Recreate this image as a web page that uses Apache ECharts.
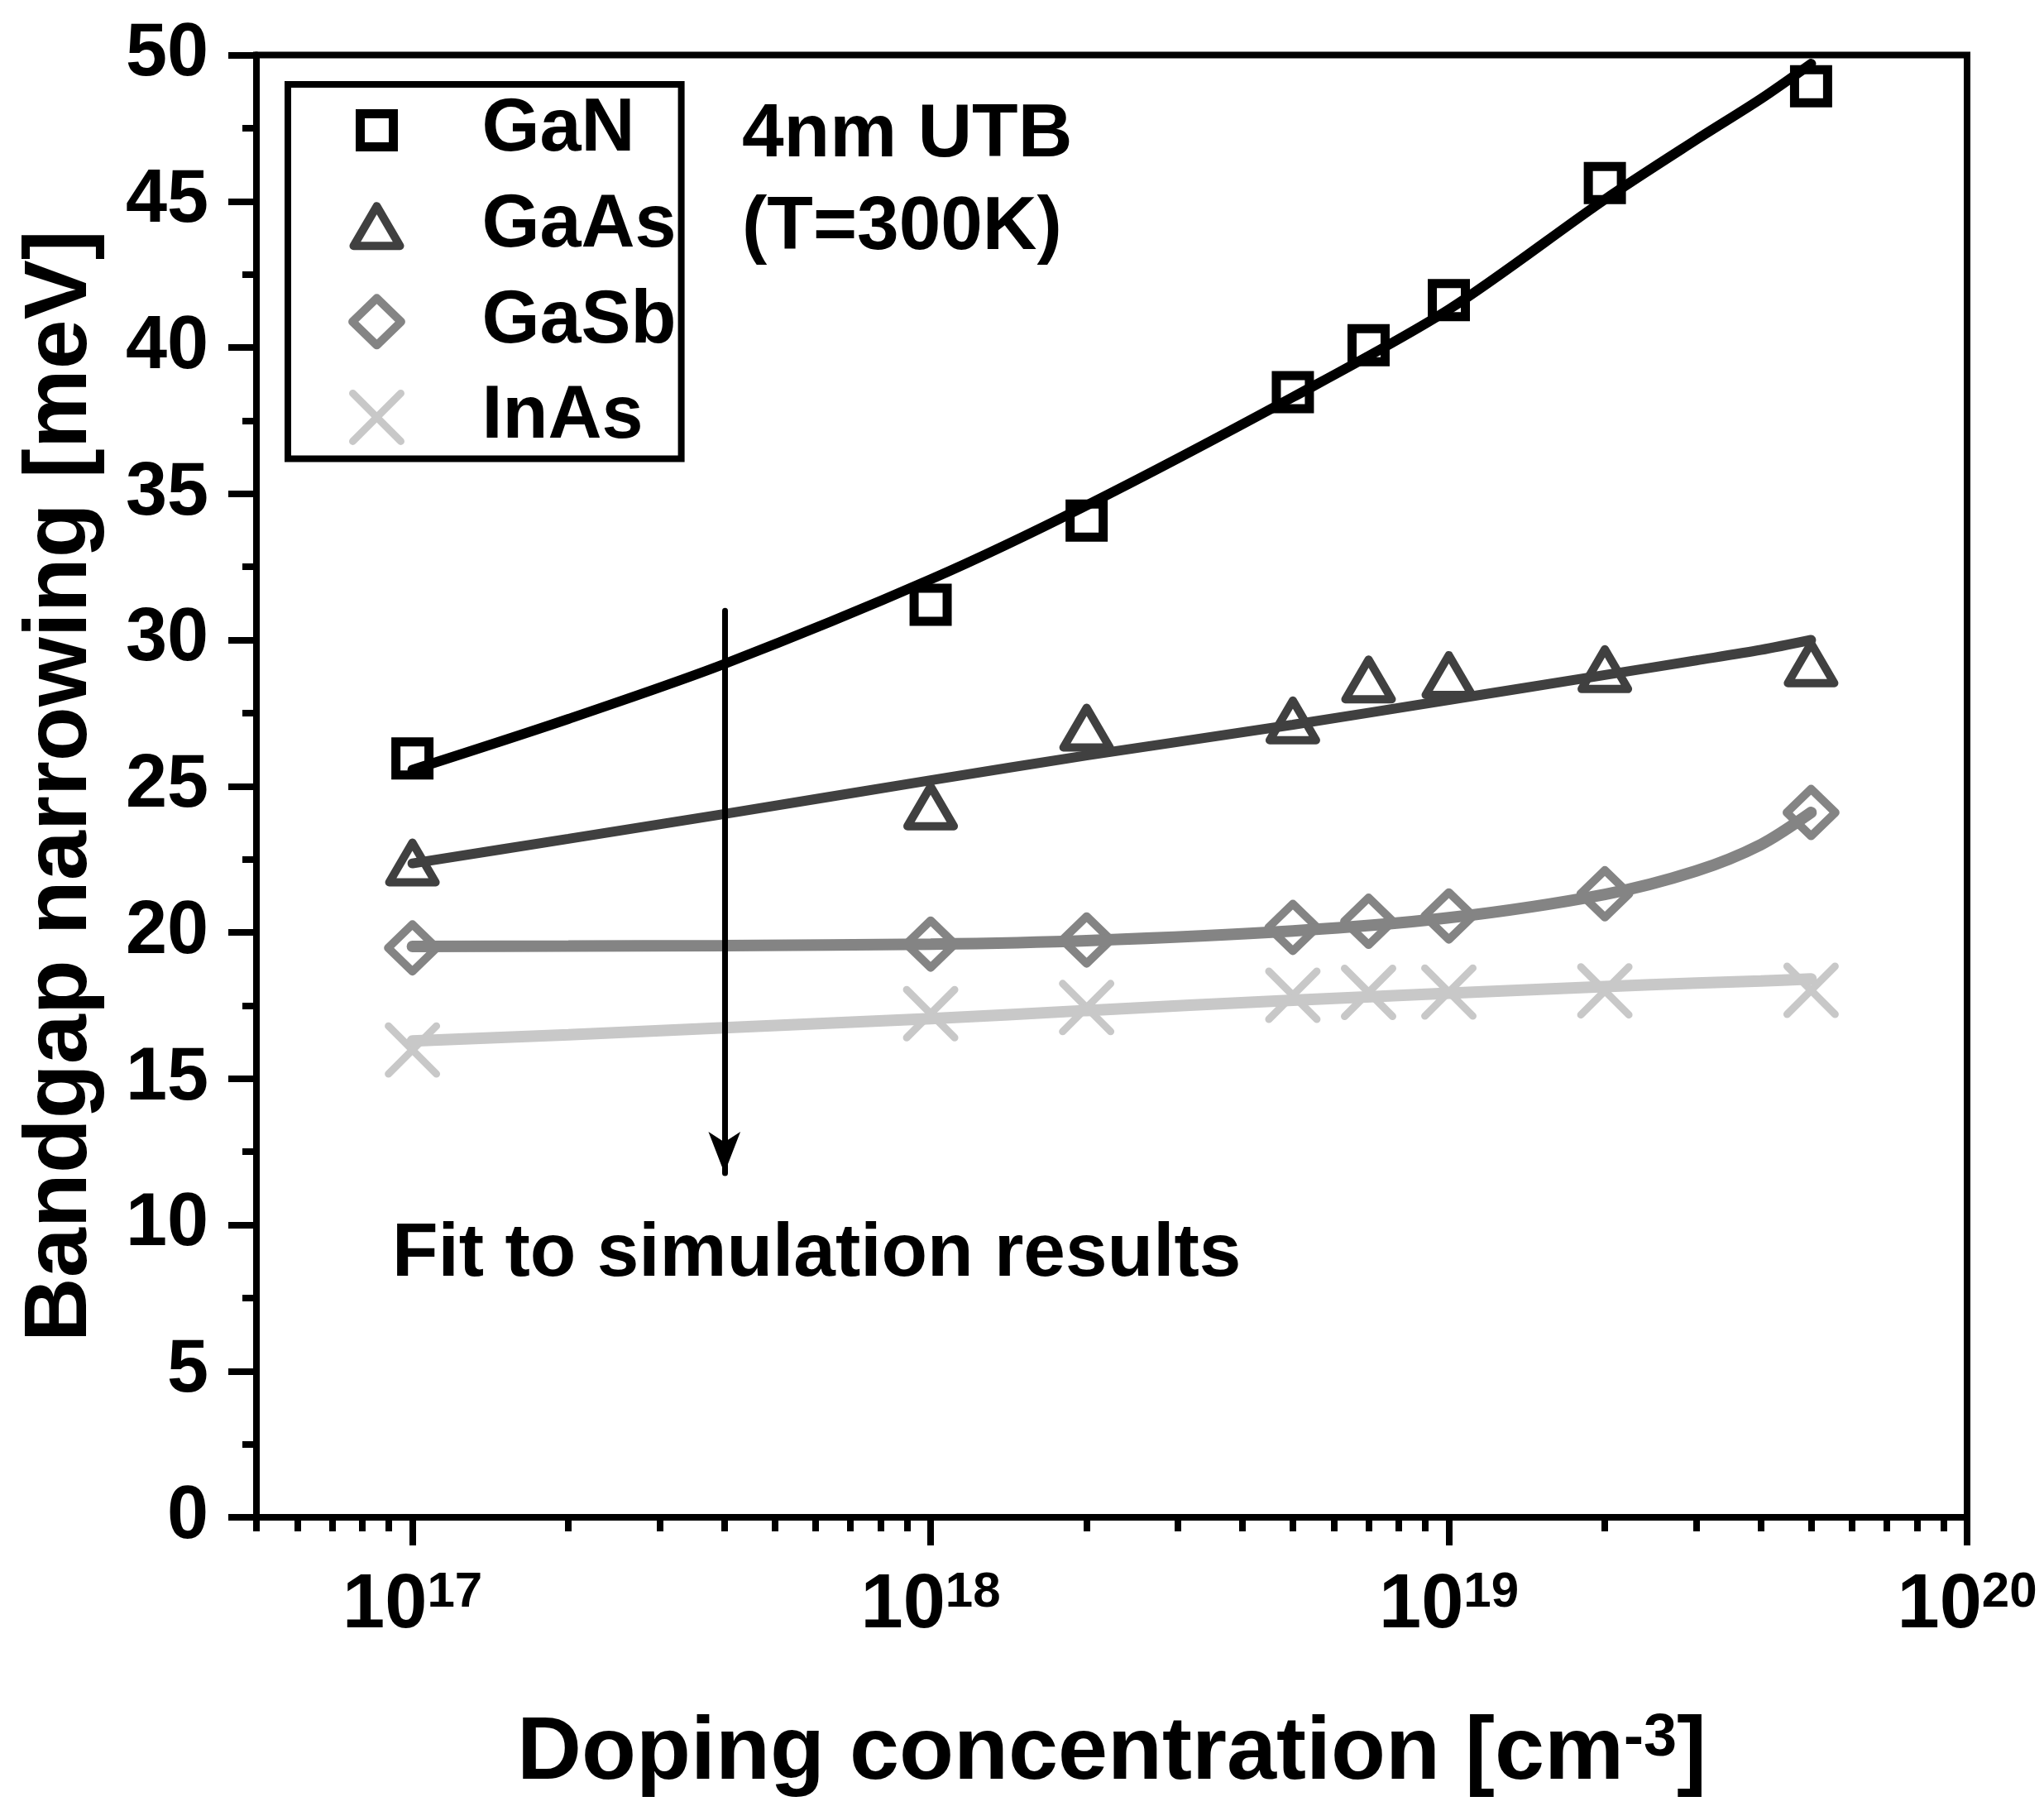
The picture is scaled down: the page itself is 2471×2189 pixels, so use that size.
<!DOCTYPE html>
<html>
<head>
<meta charset="utf-8">
<title>Bandgap narrowing</title>
<script src="https://cdn.jsdelivr.net/npm/echarts@6/dist/echarts.min.js"></script>
<style>
html, body { margin: 0; padding: 0; background: #fff; }
#main { width: 2471px; height: 2189px; }
</style>
</head>
<body>
<div id="main"></div>
<script>
// 数据：掺杂浓度 (cm^-3) 与禁带变窄量 (meV)
var dopingConc = [1e17, 1e18, 2e18, 5e18, 7e18, 1e19, 2e19, 5e19];
var ganBGN  = [25.95, 31.2, 34.08, 38.47, 40.08, 41.62, 45.62, 48.93];
var gaasBGN = [22.39, 24.31, 27.0, 27.25, 28.65, 28.8, 29.0, 29.2];
var gasbBGN = [19.47, 19.6, 19.74, 20.17, 20.38, 20.56, 21.32, 24.1];
var inasBGN = [15.98, 17.22, 17.43, 17.85, 17.95, 17.96, 18.0, 18.02];

// 拟合曲线 (Fit to simulation results)
var fitConc = [1e17, 2e17, 4e17, 1e18, 2e18, 5e18, 1e19, 2e19, 3e19, 4e19, 5e19];
var ganFit  = [25.56, 27.3, 29.18, 32.07, 34.6, 38.3, 41.3, 45.06, 47.1, 48.5, 49.7];
var gaasFit = [22.36, 23.2, 24.05, 25.2, 26.05, 27.1, 27.95, 28.8, 29.3, 29.66, 30.0];
var gasbFit = [19.52, 19.53, 19.55, 19.6, 19.72, 20.05, 20.5, 21.3, 22.1, 23.0, 24.1];
var inasFit = [16.29, 16.5, 16.74, 17.05, 17.33, 17.68, 17.92, 18.15, 18.27, 18.34, 18.41];

// 坐标轴
var xMin = 5e16, xMax = 1e20;
var xMajorTicks = [1e17, 1e18, 1e19, 1e20];
var yMin = 0, yMax = 50, yStep = 5;

// 箭头
var arrowConc = 4e17;
var arrowBGN = [31.0, 11.77];

var names = ['GaN', 'GaAs', 'GaSb', 'InAs'];
var colors = ['#000000', '#404040', '#848484', '#c8c8c8'];

var FONT = "'Liberation Sans', Arial, sans-serif";

// 空心符号 (100x100 框)
var SYM = {
    square:   'path://M0,0M100,100M16.7,16.7L83.3,16.7L83.3,83.3L16.7,83.3Z',
    triangle: 'path://M0,0M100,100M50,10L96.7,90L3.3,90Z',
    diamond:  'path://M0,0M100,100M50,2.5L99,50L50,97.5L1,50Z',
    cross:    'path://M0,0M100,100M1.7,1.7L98.3,98.3M98.3,1.7L1.7,98.3'
};
var symbols = [SYM.square, SYM.triangle, SYM.diamond, SYM.cross];
var borderW = [11, 10, 10, 9];
var joins = ['miter', 'round', 'round', 'round'];

function lg(v) { return Math.log10(v); }
function pairs(xs, ys) {
    var out = [];
    for (var i = 0; i < xs.length; i++) out.push([lg(xs[i]), ys[i]]);
    return out;
}

// 次刻度
var minorTicks = [];
for (var d = 16; d < 20; d++) {
    for (var k = 2; k <= 9; k++) {
        var v = lg(k * Math.pow(10, d));
        if (v >= lg(xMin) - 1e-9) minorTicks.push(v);
    }
}

var myChart = echarts.init(document.getElementById('main'));

var series = [];
var measured = [ganBGN, gaasBGN, gasbBGN, inasBGN];
var fits = [ganFit, gaasFit, gasbFit, inasFit];
var fitWidth = [12, 12, 14, 14];

for (var i = 0; i < 4; i++) {
    series.push({
        name: names[i],
        type: 'scatter',
        data: pairs(dopingConc, measured[i]),
        symbol: symbols[i],
        symbolSize: 60,
        z: 3,
        itemStyle: {
            color: 'transparent',
            borderColor: colors[i],
            borderWidth: borderW[i],
            borderJoin: joins[i],
            borderCap: 'round',
            opacity: 1
        }
    });
}
for (var j = 0; j < 4; j++) {
    var s = {
        name: names[j] + ' fit',
        type: 'line',
        data: pairs(fitConc, fits[j]),
        smooth: 0.3,
        showSymbol: false,
        symbol: 'none',
        z: 4,
        lineStyle: { color: colors[j], width: fitWidth[j], cap: 'round' }
    };
    if (j === 0) {
        s.markLine = {
            silent: true,
            symbol: ['none', 'arrow'],
            symbolSize: [29, 50],
            label: { show: false },
            lineStyle: { color: '#000', width: 7, type: 'solid', cap: 'round' },
            emphasis: { disabled: true },
            data: [[{ coord: [lg(arrowConc), arrowBGN[0]] }, { coord: [lg(arrowConc), arrowBGN[1]] }]]
        };
    }
    series.push(s);
}

var option = {
    animation: false,
    backgroundColor: '#fff',
    grid: {
        left: 310, top: 66.5, width: 2068, height: 1767.5,
        show: true, borderColor: '#000', borderWidth: 8,
        containLabel: false, outerBoundsMode: 'none'
    },
    legend: {
        data: names,
        orient: 'vertical',
        left: 348, top: 102,
        padding: [5.6, 6, 0, 72],
        itemWidth: 60, itemHeight: 60, itemGap: 15.6,
        selectedMode: false,
        borderColor: '#000', borderWidth: 8, borderRadius: 0,
        itemStyle: { borderWidth: 'inherit', borderJoin: 'inherit', borderCap: 'inherit' },
        textStyle: {
            color: '#000', fontSize: 90, fontWeight: 'bold', fontFamily: FONT,
            lineHeight: 100, padding: [0, 0, 0, 92]
        }
    },
    xAxis: [{
        type: 'value',
        min: lg(xMin), max: lg(xMax),
        position: 'bottom',
        name: '{a|Doping concentration [cm}{s|-3}{a|]}',
        nameLocation: 'middle',
        nameGap: 232,
        nameMoveOverlap: false,
        nameTextStyle: {
            rich: {
                a: { fontSize: 108, lineHeight: 108, fontWeight: 'bold', fontFamily: FONT, color: '#000' },
                s: { fontSize: 72, lineHeight: 47, fontWeight: 'bold', fontFamily: FONT, color: '#000', verticalAlign: 'top' }
            }
        },
        axisLine: { show: true, lineStyle: { color: '#000', width: 8 } },
        axisTick: {
            show: true, inside: false, length: 34,
            customValues: xMajorTicks.map(lg),
            lineStyle: { color: '#000', width: 8 }
        },
        axisLabel: {
            show: true, margin: 61.5,
            customValues: xMajorTicks.map(lg),
            formatter: function (v) { return '{b|10}{s|' + Math.round(v) + '}'; },
            rich: {
                b: { fontSize: 92, lineHeight: 92, fontWeight: 'bold', fontFamily: FONT, color: '#000' },
                s: { fontSize: 60, lineHeight: 40, fontWeight: 'bold', fontFamily: FONT, color: '#000', verticalAlign: 'top' }
            }
        },
        splitLine: { show: false },
        minorTick: { show: false }
    }, {
        type: 'value',
        min: lg(xMin), max: lg(xMax),
        position: 'bottom',
        axisLine: { show: false },
        axisTick: {
            show: true, inside: false, length: 17,
            customValues: minorTicks,
            lineStyle: { color: '#000', width: 8 }
        },
        axisLabel: { show: false },
        splitLine: { show: false }
    }],
    yAxis: {
        type: 'value',
        min: yMin, max: yMax, interval: yStep,
        name: 'Bandgap narrowing [meV]',
        nameLocation: 'middle',
        nameGap: 182,
        nameMoveOverlap: false,
        nameTextStyle: { fontSize: 108, lineHeight: 108, fontWeight: 'bold', fontFamily: FONT, color: '#000' },
        axisLine: { show: true, lineStyle: { color: '#000', width: 8 } },
        axisTick: { show: true, inside: false, length: 34, lineStyle: { color: '#000', width: 8 } },
        minorTick: { show: true, splitNumber: 2, length: 17, lineStyle: { color: '#000', width: 8 } },
        axisLabel: {
            margin: 58, fontSize: 90, fontWeight: 'bold', fontFamily: FONT, color: '#000',
            padding: [0, 0, 12, 0]
        },
        splitLine: { show: false }
    },
    graphic: [{
        type: 'text',
        x: 897, y: 108,
        style: {
            text: '4nm UTB\n(T=300K)',
            fill: '#000', fontSize: 91, fontWeight: 'bold', fontFamily: FONT,
            lineHeight: 112, verticalAlign: 'top', align: 'left'
        }
    }, {
        type: 'text',
        x: 474, y: 1516.5,
        style: {
            text: 'Fit to simulation results',
            fill: '#000', fontSize: 91, fontWeight: 'bold', fontFamily: FONT,
            verticalAlign: 'middle', align: 'left'
        }
    }],
    series: series
};

myChart.setOption(option);
</script>
</body>
</html>
